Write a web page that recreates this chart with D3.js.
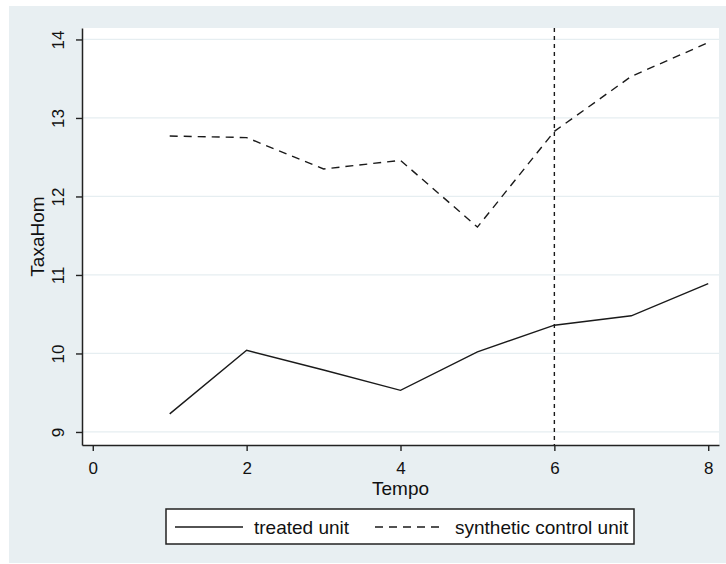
<!DOCTYPE html>
<html>
<head>
<meta charset="utf-8">
<script src="https://cdn.jsdelivr.net/npm/d3@7"></script>
<style>
  html, body { margin: 0; padding: 0; background: #ffffff; }
  svg { display: block; }
  text { font-family: "Liberation Sans", Arial, sans-serif; fill: #111; }
</style>
</head>
<body>
<svg id="chart" width="726" height="564"></svg>
<script>
// ---- data ----
const tempo = [1, 2, 3, 4, 5, 6, 7, 8];
const treatedUnit = [9.23, 10.04, 9.79, 9.53, 10.02, 10.36, 10.48, 10.89];
const syntheticControl = [12.77, 12.75, 12.35, 12.46, 11.61, 12.83, 13.53, 13.96];
const xTicks = [0, 2, 4, 6, 8];
const yTicks = [9, 10, 11, 12, 13, 14];
const treatmentTime = 6;
const legendLabels = ["treated unit", "synthetic control unit"];
const xTitle = "Tempo";
const yTitle = "TaxaHom";

// ---- layout ----
const svg = d3.select("#chart");
const plot = { left: 82, right: 719, top: 28, bottom: 445 };

svg.append("rect").attr("x", 9).attr("y", 6).attr("width", 717).attr("height", 557)
  .attr("fill", "#e8eff2");
svg.append("rect").attr("x", plot.left).attr("y", plot.top)
  .attr("width", plot.right - plot.left).attr("height", plot.bottom - plot.top)
  .attr("fill", "#ffffff");

const x = d3.scaleLinear().domain([-0.14, 8.14]).range([plot.left, plot.right]);
const y = d3.scaleLinear().domain([8.834, 14.146]).range([plot.bottom, plot.top]);

// gridlines
svg.append("g").selectAll("line").data(yTicks).join("line")
  .attr("x1", plot.left).attr("x2", plot.right)
  .attr("y1", d => y(d)).attr("y2", d => y(d))
  .attr("stroke", "#e6eef1").attr("stroke-width", 1.2);

// y axis
const yAxis = svg.append("g").attr("transform", `translate(${plot.left},0)`)
  .call(d3.axisLeft(y).tickValues(yTicks).tickSize(6).tickSizeOuter(0).tickFormat(d3.format("d")));
yAxis.select(".domain").attr("stroke", "#222").attr("stroke-width", 1.5);
yAxis.selectAll(".tick line").attr("stroke", "#222").attr("stroke-width", 1.4);
yAxis.selectAll(".tick text")
  .attr("x", null).attr("dy", null)
  .attr("transform", "translate(-24,0) rotate(-90)")
  .attr("text-anchor", "middle")
  .attr("dominant-baseline", "central")
  .style("font-size", "17px").style("font-family", "'Liberation Sans', Arial, sans-serif").attr("fill", "#111");

// x axis
const xAxis = svg.append("g").attr("transform", `translate(0,${plot.bottom})`)
  .call(d3.axisBottom(x).tickValues(xTicks).tickSize(6).tickSizeOuter(0).tickFormat(d3.format("d")));
xAxis.select(".domain").attr("stroke", "#222").attr("stroke-width", 1.5);
xAxis.selectAll(".tick line").attr("stroke", "#222").attr("stroke-width", 1.4);
xAxis.selectAll(".tick text")
  .attr("y", 23.5).attr("dy", null)
  .attr("dominant-baseline", "central")
  .style("font-size", "17px").style("font-family", "'Liberation Sans', Arial, sans-serif").attr("fill", "#111");

// axis titles
svg.append("text").attr("x", (plot.left + plot.right) / 2).attr("y", 488.5)
  .attr("text-anchor", "middle").attr("dominant-baseline", "central")
  .style("font-size", "19px").text(xTitle);
svg.append("text")
  .attr("transform", `translate(37,${(plot.top + plot.bottom) / 2}) rotate(-90)`)
  .attr("text-anchor", "middle").attr("dominant-baseline", "central")
  .style("font-size", "19px").text(yTitle);

// treatment line
svg.append("line")
  .attr("x1", x(treatmentTime)).attr("x2", x(treatmentTime))
  .attr("y1", plot.top).attr("y2", plot.bottom)
  .attr("stroke", "#1a1a1a").attr("stroke-width", 1.4)
  .attr("stroke-dasharray", "4,4");

// series
const line = d3.line().x(d => x(d[0])).y(d => y(d[1]));
svg.append("path").datum(tempo.map((t, i) => [t, treatedUnit[i]]))
  .attr("d", line).attr("fill", "none").attr("stroke", "#1a1a1a").attr("stroke-width", 1.4);
svg.append("path").datum(tempo.map((t, i) => [t, syntheticControl[i]]))
  .attr("d", line).attr("fill", "none").attr("stroke", "#1a1a1a").attr("stroke-width", 1.4)
  .attr("stroke-dasharray", "8,6");

// legend
const lg = svg.append("g");
lg.append("rect").attr("x", 166).attr("y", 509).attr("width", 468).attr("height", 35)
  .attr("fill", "#ffffff").attr("stroke", "#222").attr("stroke-width", 1.5);
lg.append("line").attr("x1", 175).attr("x2", 243).attr("y1", 527).attr("y2", 527)
  .attr("stroke", "#1a1a1a").attr("stroke-width", 1.4);
lg.append("text").attr("x", 254).attr("y", 533.5).style("font-size", "19px").text(legendLabels[0]);
lg.append("line").attr("x1", 375).attr("x2", 443).attr("y1", 527).attr("y2", 527)
  .attr("stroke", "#1a1a1a").attr("stroke-width", 1.4).attr("stroke-dasharray", "8,6");
lg.append("text").attr("x", 455).attr("y", 533.5).style("font-size", "19px").text(legendLabels[1]);
</script>
</body>
</html>
